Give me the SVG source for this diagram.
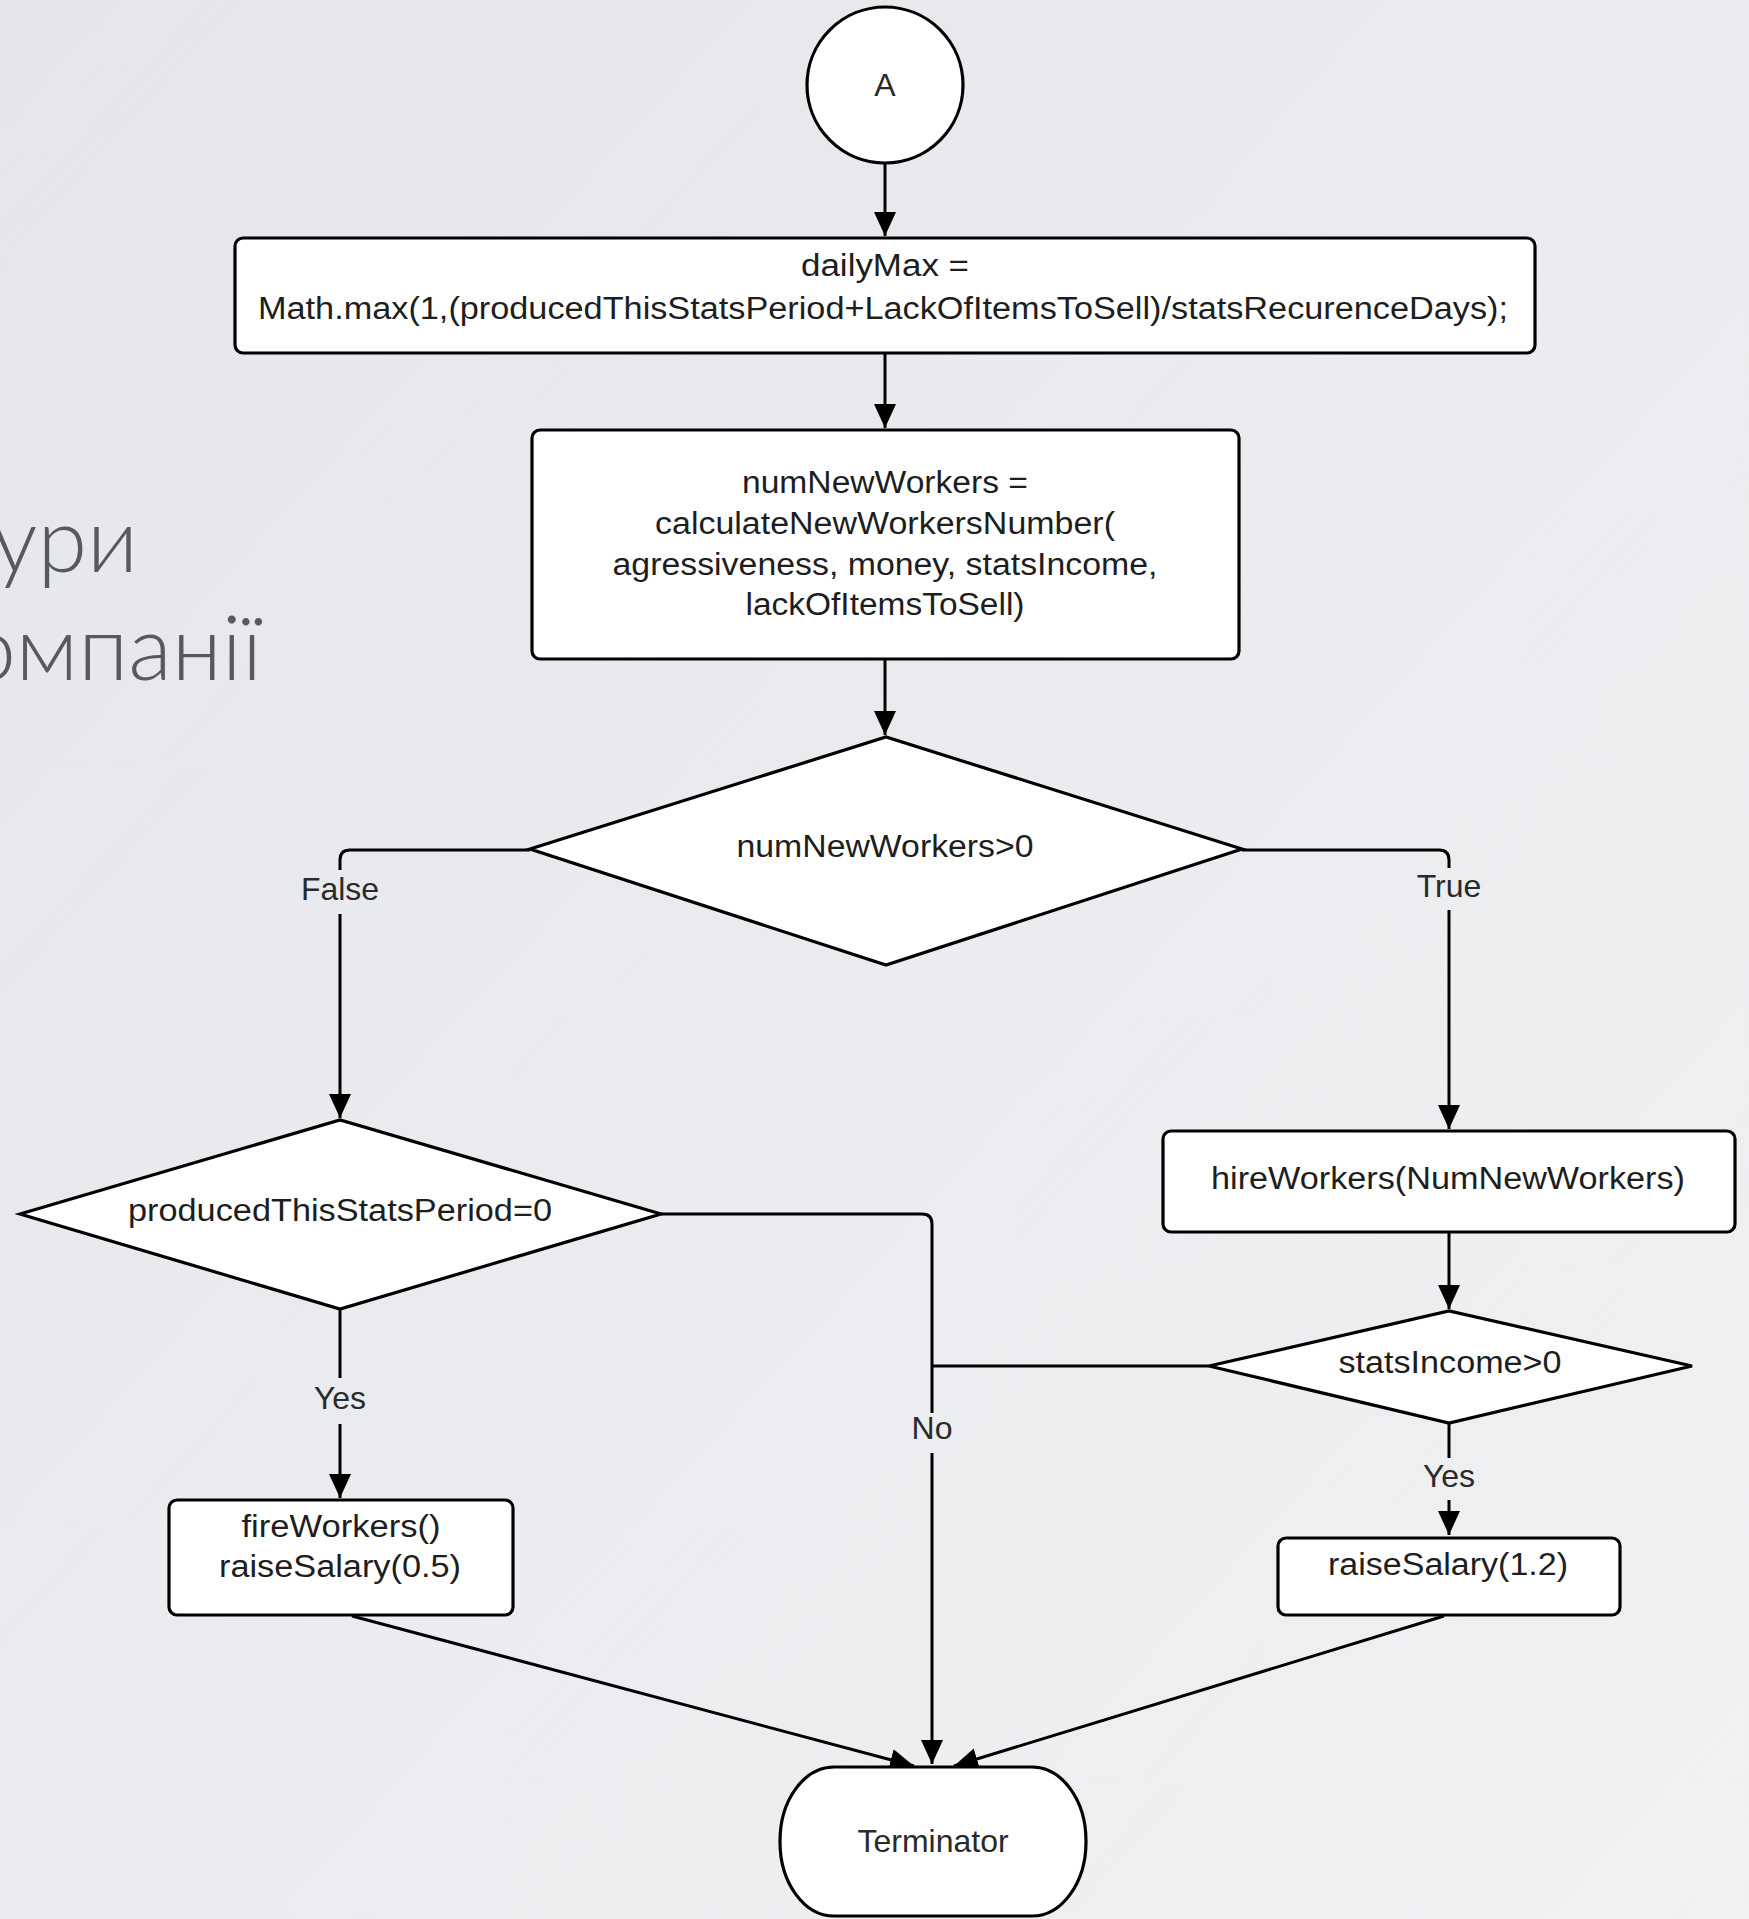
<svg xmlns="http://www.w3.org/2000/svg" width="1749" height="1919" viewBox="0 0 1749 1919">
<defs>
<linearGradient id="bg" x1="0" y1="0" x2="1" y2="1">
<stop offset="0" stop-color="#e4e6e9"/>
<stop offset="1" stop-color="#eff1f3"/>
</linearGradient>
<marker id="arr" markerUnits="userSpaceOnUse" markerWidth="26" markerHeight="24" refX="24" refY="11" orient="auto">
<path d="M0,0 L24,11 L0,22 Z" fill="#000"/>
</marker>
<style>
.n{fill:#fff;stroke:#000;stroke-width:3.2}
.c{fill:none;stroke:#000;stroke-width:3}
.t{font-family:"Liberation Sans",Arial,sans-serif;font-size:31px;fill:#1e1e1e;text-anchor:middle}
.l{font-family:"Liberation Sans",Arial,sans-serif;font-size:32px;fill:#2a2a2a;text-anchor:middle}
.h{font-family:Lato,"Open Sans","Noto Sans",sans-serif;font-weight:300;font-size:90px;fill:#58595b;text-anchor:end}
</style>
</defs>
<rect width="1749" height="1919" fill="url(#bg)"/>
<g id="title">
<text class="h" x="138" y="572">дури</text>
<text class="h" x="262" y="680">омпанії</text>
</g>
<g id="connectors">
<path class="c" d="M885,163 V236" marker-end="url(#arr)"/>
<path class="c" d="M885,353 V428" marker-end="url(#arr)"/>
<path class="c" d="M885,659 V735" marker-end="url(#arr)"/>
<path class="c" d="M530,850 H350 Q340,850 340,860 V870"/>
<path class="c" d="M340,914 V1118" marker-end="url(#arr)"/>
<path class="c" d="M1242,850 H1439 Q1449,850 1449,860 V868"/>
<path class="c" d="M1449,910 V1129" marker-end="url(#arr)"/>
<path class="c" d="M661,1214 H922 Q932,1214 932,1224 V1413"/>
<path class="c" d="M932,1453 V1764" marker-end="url(#arr)"/>
<path class="c" d="M1209,1366 H932"/>
<path class="c" d="M340,1309 V1378"/>
<path class="c" d="M340,1424 V1498" marker-end="url(#arr)"/>
<path class="c" d="M1449,1232 V1309" marker-end="url(#arr)"/>
<path class="c" d="M1449,1423 V1458"/>
<path class="c" d="M1449,1500 V1535" marker-end="url(#arr)"/>
<path class="c" d="M352,1616 L914,1766" marker-end="url(#arr)"/>
<path class="c" d="M1444,1616 L954,1766" marker-end="url(#arr)"/>
<text class="l" x="340" y="900">False</text>
<text class="l" x="1449" y="897">True</text>
<text class="l" x="340" y="1409">Yes</text>
<text class="l" x="932" y="1439">No</text>
<text class="l" x="1449" y="1487">Yes</text>
</g>
<g id="nodeA">
<circle class="n" cx="885" cy="85" r="78"/>
<text class="l" x="885" y="96">A</text>
</g>
<g id="dailyMax">
<rect class="n" x="235" y="238" width="1300" height="115" rx="8"/>
<text class="t" x="885" y="276" textLength="168" lengthAdjust="spacingAndGlyphs">dailyMax =</text>
<text class="t" x="883" y="319" textLength="1250" lengthAdjust="spacingAndGlyphs">Math.max(1,(producedThisStatsPeriod+LackOfItemsToSell)/statsRecurenceDays);</text>
</g>
<g id="numNewWorkers">
<rect class="n" x="532" y="430" width="707" height="229" rx="8"/>
<text class="t" x="885" y="493" textLength="286" lengthAdjust="spacingAndGlyphs">numNewWorkers =</text>
<text class="t" x="885" y="534" textLength="460" lengthAdjust="spacingAndGlyphs">calculateNewWorkersNumber(</text>
<text class="t" x="885" y="575" textLength="545" lengthAdjust="spacingAndGlyphs">agressiveness, money, statsIncome,</text>
<text class="t" x="885" y="615" textLength="279" lengthAdjust="spacingAndGlyphs">lackOfItemsToSell)</text>
</g>
<g id="decision1">
<path class="n" d="M530,849 L886,737 L1242,849 L886,965 Z"/>
<text class="t" x="885" y="857" textLength="297" lengthAdjust="spacingAndGlyphs">numNewWorkers&gt;0</text>
</g>
<g id="decision2">
<path class="n" d="M20,1214 L340,1120 L661,1214 L340,1309 Z"/>
<text class="t" x="340" y="1221" textLength="424" lengthAdjust="spacingAndGlyphs">producedThisStatsPeriod=0</text>
</g>
<g id="hireWorkers">
<rect class="n" x="1163" y="1131" width="572" height="101" rx="8"/>
<text class="t" x="1448" y="1189" textLength="474" lengthAdjust="spacingAndGlyphs">hireWorkers(NumNewWorkers)</text>
</g>
<g id="decision3">
<path class="n" d="M1209,1366 L1449,1311 L1692,1366 L1449,1423 Z"/>
<text class="t" x="1450" y="1373" textLength="223" lengthAdjust="spacingAndGlyphs">statsIncome&gt;0</text>
</g>
<g id="fireWorkers">
<rect class="n" x="169" y="1500" width="344" height="115" rx="8"/>
<text class="t" x="341" y="1537" textLength="199" lengthAdjust="spacingAndGlyphs">fireWorkers()</text>
<text class="t" x="340" y="1577" textLength="242" lengthAdjust="spacingAndGlyphs">raiseSalary(0.5)</text>
</g>
<g id="raiseSalary">
<rect class="n" x="1278" y="1538" width="342" height="77" rx="8"/>
<text class="t" x="1448" y="1575" textLength="240" lengthAdjust="spacingAndGlyphs">raiseSalary(1.2)</text>
</g>
<g id="terminator">
<rect class="n" x="780" y="1767" width="306" height="149" rx="54" ry="74"/>
<text class="l" x="933" y="1852">Terminator</text>
</g>
</svg>
